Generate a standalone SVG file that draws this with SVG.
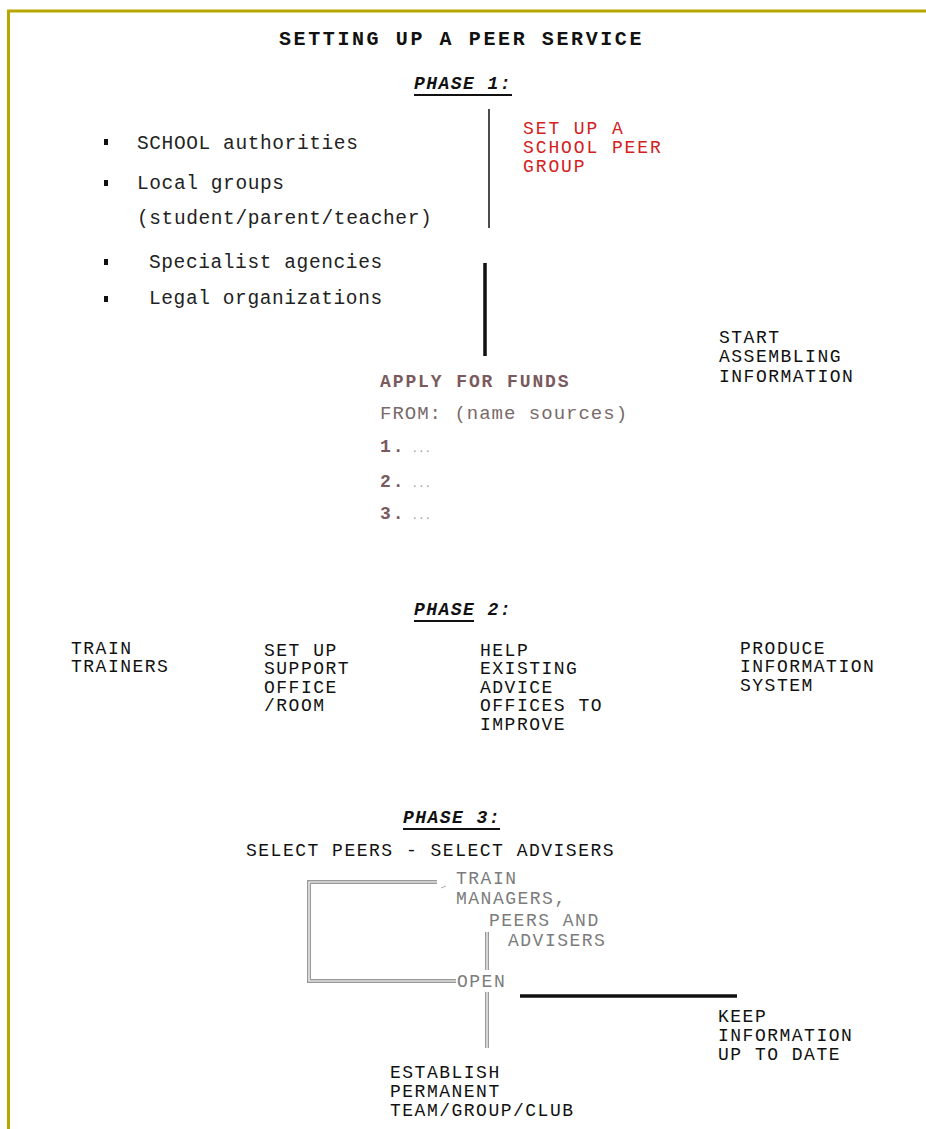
<svg xmlns="http://www.w3.org/2000/svg" width="926" height="1129" viewBox="0 0 926 1129">
<style>
.t{font-family:"Liberation Mono",monospace;font-size:18px;letter-spacing:1.5px;fill:#111}
.b{font-family:"Liberation Mono",monospace;font-size:19.5px;letter-spacing:0.6px;fill:#222}
.ttl{font-family:"Liberation Mono",monospace;font-size:20px;font-weight:bold;letter-spacing:2.6px;fill:#111}
.ph{font-family:"Liberation Mono",monospace;font-size:18px;font-weight:bold;font-style:italic;letter-spacing:1.45px;fill:#111}
.red{font-family:"Liberation Mono",monospace;font-size:18px;letter-spacing:1.9px;fill:#d42020}
.fund{font-family:"Liberation Mono",monospace;font-size:18px;font-weight:bold;letter-spacing:1.9px;fill:#7a5a5e}
.from{font-family:"Liberation Mono",monospace;font-size:19px;letter-spacing:1px;fill:#7a6a6a}
.dots{font-family:"Liberation Mono",monospace;font-size:11px;letter-spacing:0;fill:#999;font-weight:normal}
.gr{font-family:"Liberation Mono",monospace;font-size:18px;letter-spacing:1.5px;fill:#7c7c7c}
.ul{stroke:#111;stroke-width:2}
.thin{stroke:#111;stroke-width:1.5;fill:none}
.thick{stroke:#111;stroke-width:3.5;fill:none}
.dbl{stroke:#9a9a9a;stroke-width:4;fill:none}
.dbli{stroke:#fff;stroke-width:1.2;fill:none}
.bullet{fill:#111}
</style>
<rect width="926" height="1129" fill="#fff"/>
<g id="border" fill="none" stroke="#b8a600" stroke-width="3">
<line x1="7" y1="11" x2="926" y2="11"/>
<line x1="8.5" y1="10" x2="8.5" y2="1129"/>
</g>
<g id="title"><text class="ttl" x="279" y="45">SETTING UP A PEER SERVICE</text></g>
<g id="phase1">
<text class="ph" x="414" y="89">PHASE 1:</text>
<line class="ul" x1="414" y1="95" x2="512" y2="95"/>
</g>
<g id="stakeholders">
<rect class="bullet" x="104" y="139" width="4" height="6"/>
<text class="b" x="137" y="149">SCHOOL authorities</text>
<rect class="bullet" x="104" y="180" width="4" height="6"/>
<text class="b" x="137" y="189">Local groups</text>
<text class="b" x="137" y="224">(student/parent/teacher)</text>
<rect class="bullet" x="104" y="259" width="4" height="6"/>
<text class="b" x="149" y="268">Specialist agencies</text>
<rect class="bullet" x="104" y="296" width="4" height="6"/>
<text class="b" x="149" y="304">Legal organizations</text>
</g>
<g id="school-peer-group">
<text class="red" x="523" y="134">SET UP A</text>
<text class="red" x="523" y="153">SCHOOL PEER</text>
<text class="red" x="523" y="172">GROUP</text>
</g>
<g id="start-assembling">
<text class="t" x="719" y="343">START</text>
<text class="t" x="719" y="362">ASSEMBLING</text>
<text class="t" x="719" y="382">INFORMATION</text>
</g>
<g id="apply-funds">
<text class="fund" x="380" y="387">APPLY FOR FUNDS</text>
<text class="from" x="380" y="419">FROM: (name sources)</text>
<text class="fund" x="380" y="452">1.<tspan class="dots" dx="6">...</tspan></text>
<text class="fund" x="380" y="487">2.<tspan class="dots" dx="6">...</tspan></text>
<text class="fund" x="380" y="519">3.<tspan class="dots" dx="6">...</tspan></text>
</g>
<g id="phase2">
<text class="ph" x="414" y="615">PHASE 2:</text>
<line class="ul" x1="414" y1="621" x2="474" y2="621"/>
</g>
<g id="train-trainers">
<text class="t" x="71" y="654">TRAIN</text>
<text class="t" x="71" y="672">TRAINERS</text>
</g>
<g id="support-office">
<text class="t" x="264" y="656">SET UP</text>
<text class="t" x="264" y="674">SUPPORT</text>
<text class="t" x="264" y="693">OFFICE</text>
<text class="t" x="264" y="711">/ROOM</text>
</g>
<g id="help-advice">
<text class="t" x="480" y="656">HELP</text>
<text class="t" x="480" y="674">EXISTING</text>
<text class="t" x="480" y="693">ADVICE</text>
<text class="t" x="480" y="711">OFFICES TO</text>
<text class="t" x="480" y="730">IMPROVE</text>
</g>
<g id="information-system">
<text class="t" x="740" y="654">PRODUCE</text>
<text class="t" x="740" y="672">INFORMATION</text>
<text class="t" x="740" y="691">SYSTEM</text>
</g>
<g id="phase3">
<text class="ph" x="403" y="823">PHASE 3:</text>
<line class="ul" x1="403" y1="829" x2="500" y2="829"/>
</g>
<g id="select">
<text class="t" x="246" y="856">SELECT PEERS - SELECT ADVISERS</text>
</g>
<g id="train-managers">
<text class="gr" x="456" y="884">TRAIN</text>
<text class="gr" x="456" y="904">MANAGERS,</text>
<text class="gr" x="489" y="926">PEERS AND</text>
<text class="gr" x="508" y="946">ADVISERS</text>
</g>
<g id="open"><text class="gr" x="457" y="987">OPEN</text></g>
<g id="keep-info">
<text class="t" x="718" y="1022">KEEP</text>
<text class="t" x="718" y="1041">INFORMATION</text>
<text class="t" x="718" y="1060">UP TO DATE</text>
</g>
<g id="establish">
<text class="t" x="390" y="1078">ESTABLISH</text>
<text class="t" x="390" y="1097">PERMANENT</text>
<text class="t" x="390" y="1116">TEAM/GROUP/CLUB</text>
</g>
<g id="connectors">
<line class="thin" x1="489" y1="109" x2="489" y2="228"/>
<line class="thick" x1="485" y1="263" x2="485" y2="356"/>
<path class="dbl" d="M437 882 H309 V981 H456"/>
<path class="dbli" d="M437 882 H309 V981 H456"/>
<path d="M441 888 l5 -2" stroke="#aaa" stroke-width="1"/>
<line class="dbl" x1="487" y1="932" x2="487" y2="970"/>
<line class="dbli" x1="487" y1="932" x2="487" y2="970"/>
<line class="dbl" x1="487" y1="992" x2="487" y2="1048"/>
<line class="dbli" x1="487" y1="992" x2="487" y2="1048"/>
<line class="thick" x1="520" y1="996" x2="737" y2="996"/>
</g>
</svg>
